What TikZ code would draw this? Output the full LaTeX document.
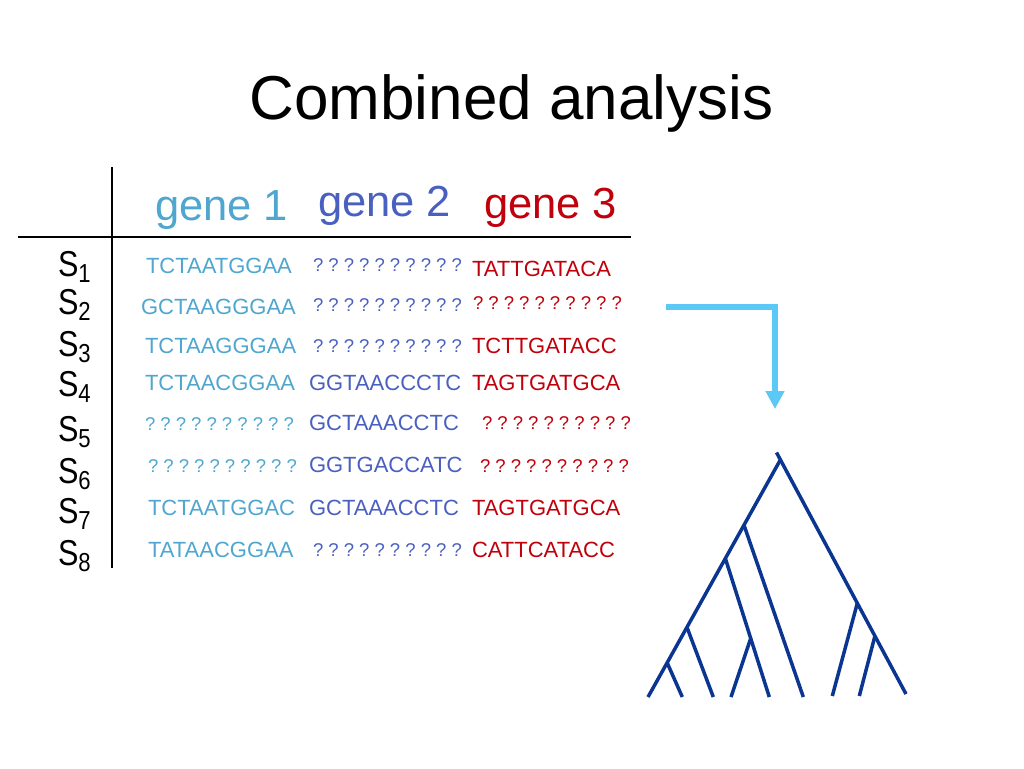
\documentclass[tikz,border=0pt]{standalone}
\usepackage{fontspec}
\setmainfont{Liberation Sans}
\newfontfamily\slab[FakeStretch=0.85]{Liberation Sans}
\usetikzlibrary{calc,arrows.meta}
\definecolor{gA}{HTML}{4FA6CF}
\definecolor{gB}{HTML}{4A60C0}
\definecolor{gC}{HTML}{C0000B}
\definecolor{treec}{HTML}{0A3590}
\definecolor{arrc}{HTML}{5BC8F5}
\newcommand{\slabel}[1]{{\slab\fontsize{36}{36}\selectfont S\raisebox{-6pt}{\fontsize{26}{26}\selectfont #1}}}
\newcommand{\qm}{\makebox[15.4pt][l]{?}}
\newcommand{\qq}{\qm\qm\qm\qm\qm\qm\qm\qm\qm ?}
\begin{document}
\begin{tikzpicture}[x=1pt,y=-1pt,
  txt/.style={inner sep=0pt, outer sep=0pt},
  seqA/.style={txt, anchor=west, text=gA, font=\fontsize{22}{27}\selectfont},
  seqB/.style={txt, anchor=west, text=gB, font=\fontsize{22}{27}\selectfont},
  seqC/.style={txt, anchor=west, text=gC, font=\fontsize{22}{27}\selectfont},
  qA/.style={seqA, font=\fontsize{18.5}{22}\selectfont},
  qB/.style={seqB, font=\fontsize{18.5}{22}\selectfont},
  qC/.style={seqC, font=\fontsize{18.5}{22}\selectfont},
  head/.style={txt, anchor=base west, font=\fontsize{43.5}{48}\selectfont},
  slab/.style={txt, anchor=base west},
  rule/.style={line width=2pt, black},
  branch/.style={line width=3.5pt, treec, line cap=butt},
  bigarrow/.style={line width=6pt, arrc, -{Triangle[width=18pt,length=18pt]}}
]
\useasboundingbox (0,0) rectangle (1024,768);

% title
\node[txt, anchor=base] (title) at (511.5,119) {\fontsize{62}{70}\selectfont Combined analysis};

% table rules
\coordinate (vt) at (112,167);
\coordinate (vb) at (112,568);
\coordinate (hl) at (18,236.5);
\coordinate (hr) at (631,236.5);
\draw[rule] (vt) -- (vb);
\draw[rule] (hl) -- (hr);

% headers
\node[head, text=gA] (h1) at (155,220) {gene 1};
\node[head, text=gB] (h2) at (318,216.5) {gene 2};
\node[head, text=gC] (h3) at (484,218) {gene 3};

% species labels
\node[slab] (s1) at (58,276.5) {\slabel{1}};
\node[slab] (s2) at (58,314.5) {\slabel{2}};
\node[slab] (s3) at (58,356.5) {\slabel{3}};
\node[slab] (s4) at (58,396.5) {\slabel{4}};
\node[slab] (s5) at (58,441.5) {\slabel{5}};
\node[slab] (s6) at (58,483) {\slabel{6}};
\node[slab] (s7) at (58,523) {\slabel{7}};
\node[slab] (s8) at (58,565) {\slabel{8}};

% row 1
\node[seqA] (r1a) at (146,266) {TCTAATGGAA};
\node[qB]   (r1b) at (313,265.5) {\qq};
\node[seqC] (r1c) at (472,268.5) {TATTGATACA};
% row 2
\node[seqA] (r2a) at (141,306.5) {GCTAAGGGAA};
\node[qB]   (r2b) at (313,305) {\qq};
\node[qC]   (r2c) at (473,303.5) {\qq};
% row 3
\node[seqA] (r3a) at (145,346) {TCTAAGGGAA};
\node[qB]   (r3b) at (313,346.5) {\qq};
\node[seqC] (r3c) at (472,346) {TCTTGATACC};
% row 4
\node[seqA] (r4a) at (145,383) {TCTAACGGAA};
\node[seqB] (r4b) at (309,383) {GGTAACCCTC};
\node[seqC] (r4c) at (472,383) {TAGTGATGCA};
% row 5
\node[qA]   (r5a) at (145,424) {\qq};
\node[seqB] (r5b) at (309,423) {GCTAAACCTC};
\node[qC]   (r5c) at (482,423.5) {\qq};
% row 6
\node[qA]   (r6a) at (148,466) {\qq};
\node[seqB] (r6b) at (309,465) {GGTGACCATC};
\node[qC]   (r6c) at (480,466) {\qq};
% row 7
\node[seqA] (r7a) at (148,508) {TCTAATGGAC};
\node[seqB] (r7b) at (309,508) {GCTAAACCTC};
\node[seqC] (r7c) at (472,508) {TAGTGATGCA};
% row 8
\node[seqA] (r8a) at (148,550) {TATAACGGAA};
\node[qB]   (r8b) at (313,550.5) {\qq};
\node[seqC] (r8c) at (472,550) {CATTCATACC};

% arrow
\coordinate (arS) at (666,307);
\coordinate (arC) at (775,307);
\coordinate (arE) at (775,409);
\draw[bigarrow] (arS) -- (arC) -- (arE);

% tree
\coordinate (R) at (776.5,452.5);
\coordinate (J) at (780,460.5);
\coordinate (RE) at (906,694);
\coordinate (LE) at (648,697);
\coordinate (A1) at ($(J)!0.273!(LE)$);
\coordinate (A2) at ($(J)!0.414!(LE)$);
\coordinate (A3) at ($(J)!0.705!(LE)$);
\coordinate (A4) at ($(J)!0.855!(LE)$);
\coordinate (B1) at ($(R)!0.624!(RE)$);
\coordinate (B2) at ($(R)!0.760!(RE)$);
\coordinate (L1) at (803.3,697);
\coordinate (L2) at (769.3,697);
\coordinate (C) at ($(A2)!0.577!(L2)$);
\coordinate (L3) at (731,697);
\coordinate (L4) at (713.3,697);
\coordinate (L5) at (682.3,697);
\coordinate (L6) at (832.3,696);
\coordinate (L7) at (859.3,696);
\draw[branch] (R) -- (RE);
\draw[branch] (J) -- (LE);
\draw[branch] (A1) -- (L1);
\draw[branch] (A2) -- (L2);
\draw[branch] (C) -- (L3);
\draw[branch] (A3) -- (L4);
\draw[branch] (A4) -- (L5);
\draw[branch] (B1) -- (L6);
\draw[branch] (B2) -- (L7);
\end{tikzpicture}
\end{document}
